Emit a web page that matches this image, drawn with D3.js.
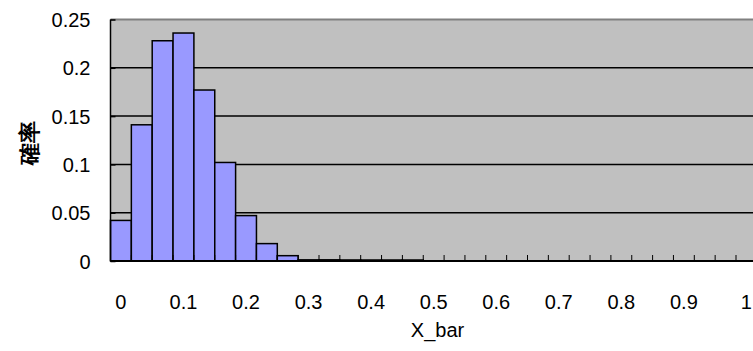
<!DOCTYPE html>
<html>
<head>
<meta charset="utf-8">
<script src="https://cdn.jsdelivr.net/npm/d3@7"></script>
<style>
  body { margin: 0; background: #fff; }
  text { font-family: "Liberation Sans", Arial, sans-serif; fill: #000; }
</style>
</head>
<body>
<div class="chart"></div>
<script>
var svgWidth = 753;
var svgHeight = 351;

// category index k -> X_bar = k/30, labels shown on every 3rd category
var categories = d3.range(31);
var probs = [0.042, 0.141, 0.228, 0.236, 0.177, 0.102, 0.047, 0.018, 0.0055, 0.0012,
             0.0002, 0.00004, 0.000006, 0.0000008, 0.0000001, 0, 0, 0, 0, 0,
             0, 0, 0, 0, 0, 0, 0, 0, 0, 0, 0];
var xTickLabels = ["0", "0.1", "0.2", "0.3", "0.4", "0.5", "0.6", "0.7", "0.8", "0.9", "1"];
var yTicks = [0, 0.05, 0.1, 0.15, 0.2, 0.25];

var margin = { top: 19.5, left: 110.5 };
var bandW = 20.85;
var width = bandW * categories.length;
var height = 241.5;

var svg = d3.select(".chart")
  .append("svg")
  .attr("width", svgWidth)
  .attr("height", svgHeight);

var chartGroup = svg.append("g")
  .attr("transform", `translate(${margin.left}, ${margin.top})`);

var xScale = d3.scaleBand()
  .domain(categories)
  .range([0, width])
  .padding(0);

var yScale = d3.scaleLinear()
  .domain([0, 0.25])
  .range([height, 0]);

// plot area
chartGroup.append("rect")
  .attr("width", width)
  .attr("height", height)
  .attr("fill", "#c0c0c0");

// gridlines
chartGroup.selectAll(".grid")
  .data(yTicks.slice(1, -1))
  .enter()
  .append("line")
  .attr("x1", 0)
  .attr("x2", width)
  .attr("y1", d => yScale(d))
  .attr("y2", d => yScale(d))
  .attr("stroke", "#000")
  .attr("stroke-width", 1.5);

// top border
chartGroup.append("line")
  .attr("x1", 0).attr("x2", width)
  .attr("y1", 0).attr("y2", 0)
  .attr("stroke", "#808080")
  .attr("stroke-width", 2);

// bars
chartGroup.selectAll(".bar")
  .data(probs.map((p, i) => ({ k: categories[i], p: p })).filter(d => d.p > 0))
  .enter()
  .append("rect")
  .attr("x", d => xScale(d.k))
  .attr("y", d => yScale(d.p))
  .attr("width", xScale.bandwidth())
  .attr("height", d => Math.max(height - yScale(d.p), 1))
  .attr("transform", d => height - yScale(d.p) < 1 ? "translate(0,-1)" : null)
  .attr("fill", "#9999ff")
  .attr("stroke", "#000")
  .attr("stroke-width", 1.5);

// y axis
var leftAxis = d3.axisLeft(yScale)
  .tickValues(yTicks)
  .tickSize(-5)
  .tickPadding(20)
  .tickFormat(d => d3.format("")(+d.toFixed(2)));

var yAxis = chartGroup.append("g").call(leftAxis);
yAxis.select(".domain").attr("stroke-width", 1.5).attr("d", `M0,${height}V0`);
yAxis.selectAll(".tick line").attr("stroke-width", 1.5);
yAxis.selectAll(".tick text")
  .attr("font-size", 20)
  .attr("font-family", "Liberation Sans, Arial, sans-serif")
  .attr("dy", "0.35em");

// x axis: ticks at category boundaries, labels every 3rd category
var xAxisG = chartGroup.append("g")
  .attr("transform", `translate(0, ${height})`);

xAxisG.append("line")
  .attr("x1", 0).attr("x2", width)
  .attr("stroke", "#000")
  .attr("stroke-width", 2);

xAxisG.selectAll(".xtick")
  .data(categories.slice(1))
  .enter()
  .append("line")
  .attr("x1", d => xScale(d))
  .attr("x2", d => xScale(d))
  .attr("y1", 0)
  .attr("y2", -6)
  .attr("stroke", "#000")
  .attr("stroke-width", 1);

xAxisG.selectAll(".xlabel")
  .data(xTickLabels)
  .enter()
  .append("text")
  .attr("x", (d, i) => xScale(categories[i * 3]) + xScale.bandwidth() / 2)
  .attr("y", 41)
  .attr("dy", "0.35em")
  .attr("text-anchor", "middle")
  .attr("font-size", 20)
  .text(d => d);

// axis titles
chartGroup.append("text")
  .attr("x", 327)
  .attr("y", 310.5)
  .attr("dy", "0.35em")
  .attr("text-anchor", "middle")
  .attr("font-size", 20)
  .text("X_bar");

svg.append("text")
  .attr("transform", "translate(29, 143) rotate(-90)")
  .attr("dy", "0.35em")
  .attr("text-anchor", "middle")
  .attr("font-size", 22)
  .attr("font-weight", "bold")
  .attr("font-family", "Noto Sans CJK JP, sans-serif")
  .text("確率");
</script>
</body>
</html>
